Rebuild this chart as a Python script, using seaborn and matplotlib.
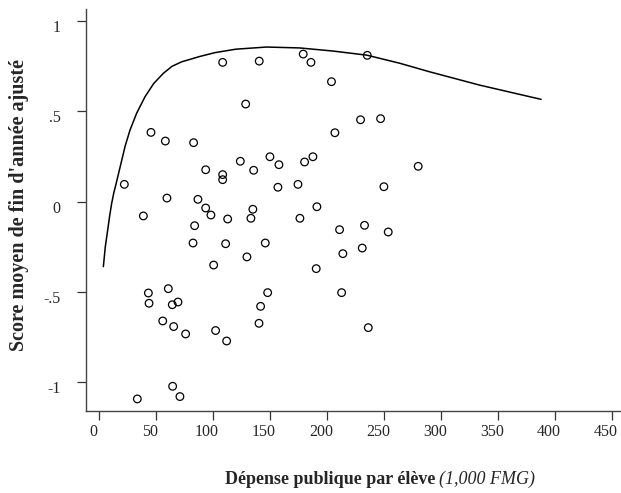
import pandas as pd
import matplotlib
matplotlib.use("Agg")
import matplotlib.pyplot as plt
import matplotlib.transforms as mtransforms
import seaborn as sns

# Data
spend = [108.5, 140.6, 179.2, 186.0, 204.0, 128.7, 229.5, 247.1, 45.6, 58.2,
         83.0, 207.0, 150.0, 124.0, 157.9, 187.7, 180.4, 93.6, 135.7, 108.5,
         108.5, 22.2, 174.6, 157.0, 59.6, 86.8, 93.6, 98.2, 135.0, 191.2,
         38.9, 112.9, 133.3, 176.3, 83.9, 82.5, 111.1, 145.9, 129.8, 100.6,
         211.1, 214.0, 190.6, 233.0, 231.0, 253.8, 212.9, 236.3, 43.3, 43.9,
         60.8, 64.3, 69.3, 55.9, 65.5, 76.0, 102.3, 112.0, 148.0, 141.8,
         140.4, 64.6, 71.0, 33.6, 235.4, 250.0, 280.1]
score = [0.772, 0.779, 0.818, 0.772, 0.665, 0.541, 0.454, 0.460, 0.384, 0.336,
         0.327, 0.382, 0.249, 0.224, 0.205, 0.249, 0.220, 0.177, 0.174, 0.150,
         0.122, 0.096, 0.096, 0.080, 0.020, 0.013, -0.035, -0.074, -0.042, -0.028,
         -0.079, -0.096, -0.092, -0.092, -0.133, -0.229, -0.233, -0.229, -0.306, -0.351,
         -0.155, -0.288, -0.371, -0.131, -0.257, -0.168, -0.504, -0.698, -0.506, -0.563,
         -0.482, -0.571, -0.556, -0.661, -0.692, -0.733, -0.714, -0.772, -0.504, -0.580,
         -0.674, -1.023, -1.080, -1.093, 0.811, 0.083, 0.196]

# fitted curve, points
curve_x = [3.8, 5.5, 7.6, 9.3, 11.1, 13.0, 15.0, 19.3, 23.0, 27.2, 33.0, 40.4,
           48.0, 56.4, 64.0, 72.5, 88.6, 101.8, 120.0, 147.0, 176.0, 205.0,
           235.0, 264.0, 290.0, 334.0, 388.0]
curve_y = [-0.36, -0.25, -0.157, -0.08, -0.009, 0.05, 0.10, 0.213, 0.31, 0.397,
           0.49, 0.582, 0.655, 0.711, 0.75, 0.775, 0.805, 0.826, 0.845, 0.857,
           0.852, 0.835, 0.812, 0.767, 0.72, 0.646, 0.567]

x_ticks = [0, 50, 100, 150, 200, 250, 300, 350, 400, 450]
y_ticks = [-1, -0.5, 0, 0.5, 1]
y_tick_labels = ["-1", "-.5", "0", ".5", "1"]

df = pd.DataFrame({"spend": spend, "score": score})
df_curve = pd.DataFrame({"x": curve_x, "y": curve_y})

sns.set_theme(style="ticks")
plt.rcParams['font.family'] = ['Liberation Serif', 'DejaVu Serif']

fig = plt.figure(figsize=(6.21, 4.93), dpi=100)
ax = fig.add_axes([0.138, 0.1663, 0.860, 0.8148])

sns.lineplot(data=df_curve, x="x", y="y", ax=ax, color="black", linewidth=1.1)
sns.scatterplot(data=df, x="spend", y="score", ax=ax, s=30, marker="o",
                facecolors="none", edgecolor="black", linewidth=0.9)

ax.set_xlim(-11.7, 457)
ax.set_ylim(-1.16, 1.066)
ax.set_xticks(x_ticks)
ax.set_xticklabels([str(t) for t in x_ticks])
ax.set_yticks(y_ticks)
ax.set_yticklabels(y_tick_labels)
ax.tick_params(axis="x", length=6.5, width=0.9, pad=2.5, labelsize=11.5, color="#333333")
ax.tick_params(axis="y", length=6.5, width=0.9, pad=11.5, labelsize=11.5, color="#333333")
for side in ["left", "bottom"]:
    ax.spines[side].set_color("#444444")
    ax.spines[side].set_linewidth(1.0)
sns.despine(ax=ax)

# labels in the reference sit a little left of / below their ticks
shift_x = mtransforms.ScaledTranslation(-6 / 100, 0, fig.dpi_scale_trans)
for lab in ax.get_xticklabels():
    lab.set_transform(lab.get_transform() + shift_x)
shift_y = mtransforms.ScaledTranslation(0, -5 / 100, fig.dpi_scale_trans)
for lab in ax.get_yticklabels():
    lab.set_transform(lab.get_transform() + shift_y)

ax.set_xlabel("")
ax.set_ylabel("")
fig.text(19.5 / 621, 1 - 205 / 493, "Score moyen de fin d'année ajusté", rotation=90,
         ha="center", va="center", fontsize=14.5, fontweight="bold")

# x label: bold part + italic unit
fig.text(435 / 621, 1 - 479 / 493, "Dépense publique par élève", ha="right", va="center",
         fontsize=13, fontweight="bold")
fig.text(439 / 621, 1 - 479 / 493, "(1,000 FMG)", ha="left", va="center",
         fontsize=13, fontstyle="italic")

plt.savefig("out.png", dpi=100)
